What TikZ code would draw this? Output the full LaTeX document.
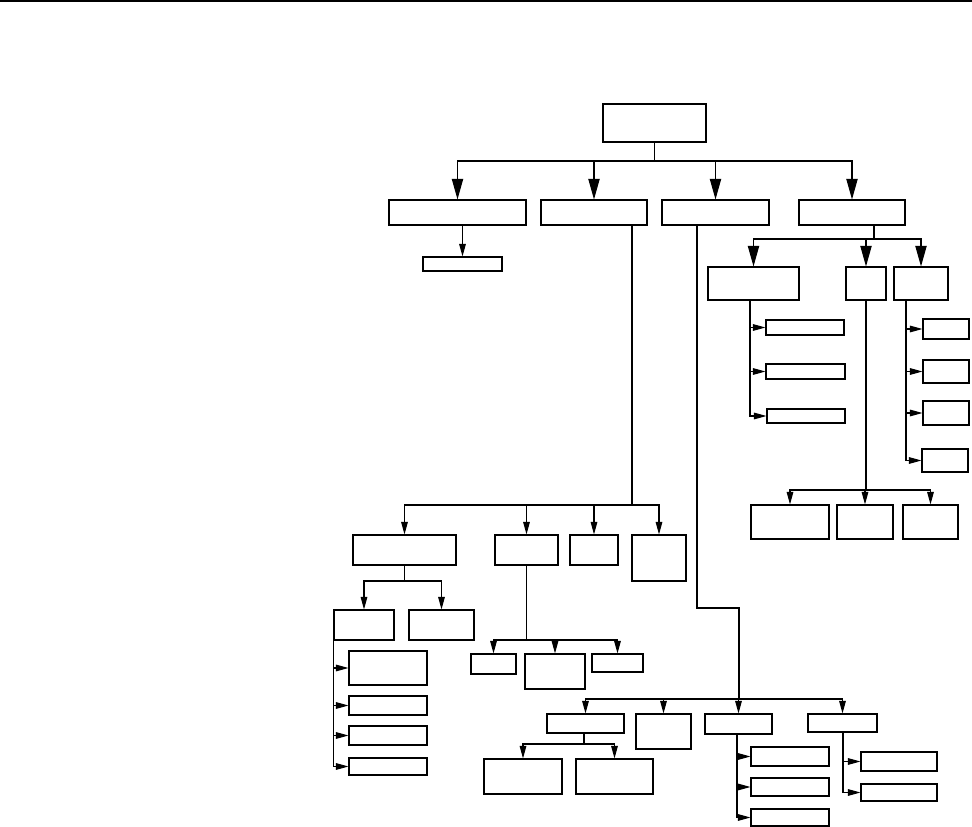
\documentclass[tikz,border=0pt]{standalone}
\usetikzlibrary{arrows.meta, fit}
\tikzset{
  every picture/.style={line width=0.8pt},
  box/.style={draw, inner sep=0pt, fit={#1}},
  bigarrow/.style={-{Triangle[length=15.5pt, width=8.5pt]}},
  arrow/.style={-{Triangle[length=9.5pt, width=5pt]}},
}

\begin{document}
\begin{tikzpicture}[x=0.75pt, y=-0.75pt]
  \useasboundingbox (0,0) rectangle (972,827);
  \draw[line width=1.6pt] (0,1) -- (972,1);

  % top levels
  \node[box={(603,104) (706,142)}] (root) {};
  \node[box={(389,200) (526,225)}] (a) {};
  \node[box={(541,200) (647,225)}] (b) {};
  \node[box={(662,200) (769,225)}] (c) {};
  \node[box={(799,200) (905,225)}] (d) {};
  \node[box={(423,257) (502,271)}] (a1) {};

  % right branch
  \node[box={(708,267) (799,300)}] (d1) {};
  \node[box={(846,267) (886,300)}] (d2) {};
  \node[box={(894,267) (948,300)}] (d3) {};
  \node[box={(766,320) (844,335)}] (d1a) {};
  \node[box={(766,364) (845,379)}] (d1b) {};
  \node[box={(767,409) (845,423)}] (d1c) {};
  \node[box={(923,319) (969,339)}] (d3a) {};
  \node[box={(923,360) (969,383)}] (d3b) {};
  \node[box={(923,401) (969,425)}] (d3c) {};
  \node[box={(922,449) (968,472)}] (d3d) {};
  \node[box={(751,505) (829,539)}] (d2a) {};
  \node[box={(837,505) (893,539)}] (d2b) {};
  \node[box={(903,505) (958,539)}] (d2c) {};

  % lower left branch
  \node[box={(353,535) (456,565)}] (b1) {};
  \node[box={(495,535) (558,565)}] (b2) {};
  \node[box={(570,535) (618,565)}] (b3) {};
  \node[box={(632,535) (686,581)}] (b4) {};
  \node[box={(334,610) (394,640)}] (b1a) {};
  \node[box={(409,610) (474,640)}] (b1b) {};
  \node[box={(349,651) (427,685)}] (b1a1) {};
  \node[box={(349,696) (427,715)}] (b1a2) {};
  \node[box={(349,726) (427,745)}] (b1a3) {};
  \node[box={(349,758) (427,775)}] (b1a4) {};
  \node[box={(471,654) (516,674)}] (b2a) {};
  \node[box={(525,654) (585,689)}] (b2b) {};
  \node[box={(592,654) (643,672)}] (b2c) {};

  % bottom branch
  \node[box={(547,714) (624,733)}] (c1) {};
  \node[box={(636,714) (691,749)}] (c2) {};
  \node[box={(705,714) (772,734)}] (c3) {};
  \node[box={(808,714) (877,732)}] (c4) {};
  \node[box={(484,759) (562,794)}] (c1a) {};
  \node[box={(576,759) (653,794)}] (c1b) {};
  \node[box={(751,747) (829,766)}] (c3a) {};
  \node[box={(751,778) (829,796)}] (c3b) {};
  \node[box={(751,809) (829,826)}] (c3c) {};
  \node[box={(861,752) (937,771)}] (c4a) {};
  \node[box={(861,784) (937,801)}] (c4b) {};

  % bus points
  \coordinate (rbus) at (root.south |- 0,161);
  \coordinate (dbus) at (874,239);
  \coordinate (d2bus) at (d2.south |- 0,490);
  \coordinate (bbus) at (632,505);
  \coordinate (b1bus) at (b1.south |- 0,581);
  \coordinate (b2bus) at (b2.south |- 0,640);
  \coordinate (cbend) at (697,608);
  \coordinate (cbus) at (739,699);
  \coordinate (c1bus) at (584,744);

  % connectors
  \foreach \n in {a,b,c,d} \draw[bigarrow] (root.south) -- (rbus) -| (\n.north);
  \draw[arrow] (a.south -| a1.north) -- (a1.north);
  \foreach \n in {d1,d2,d3} \draw[bigarrow] (d.south -| dbus) -- (dbus) -| (\n.north);
  \foreach \n in {d1a,d1b,d1c} \draw[arrow] (d1.south -| 750,0) |- (\n.west);
  \foreach \n in {d3a,d3b,d3c,d3d} \draw[arrow] (d3.south -| 906,0) |- (\n.west);
  \foreach \n in {d2a,d2b,d2c} \draw[arrow] (d2.south) -- (d2bus) -| (\n.north);
  \foreach \n in {b1,b2,b3,b4} \draw[arrow] (b.south -| bbus) -- (bbus) -| (\n.north);
  \foreach \n in {b1a,b1b} \draw[arrow] (b1.south) -- (b1bus) -| (\n.north);
  \foreach \n in {b1a1,b1a2,b1a3,b1a4} \draw[arrow] (b1a.south west) |- (\n.west);
  \foreach \n in {b2a,b2b,b2c} \draw[arrow] (b2.south) -- (b2bus) -| (\n.north);
  \foreach \n in {c1,c2,c3,c4} \draw[arrow] (c.south -| cbend) -- (cbend) -| (cbus) -| (\n.north);
  \foreach \n in {c1a,c1b} \draw[arrow] (c1.south -| c1bus) -- (c1bus) -| (\n.north);
  \foreach \n in {c3a,c3b,c3c} \draw[arrow] (c3.south -| 737,0) |- (\n.west);
  \foreach \n in {c4a,c4b} \draw[arrow] (c4.south -| 843,0) |- (\n.west);
\end{tikzpicture}
\end{document}
